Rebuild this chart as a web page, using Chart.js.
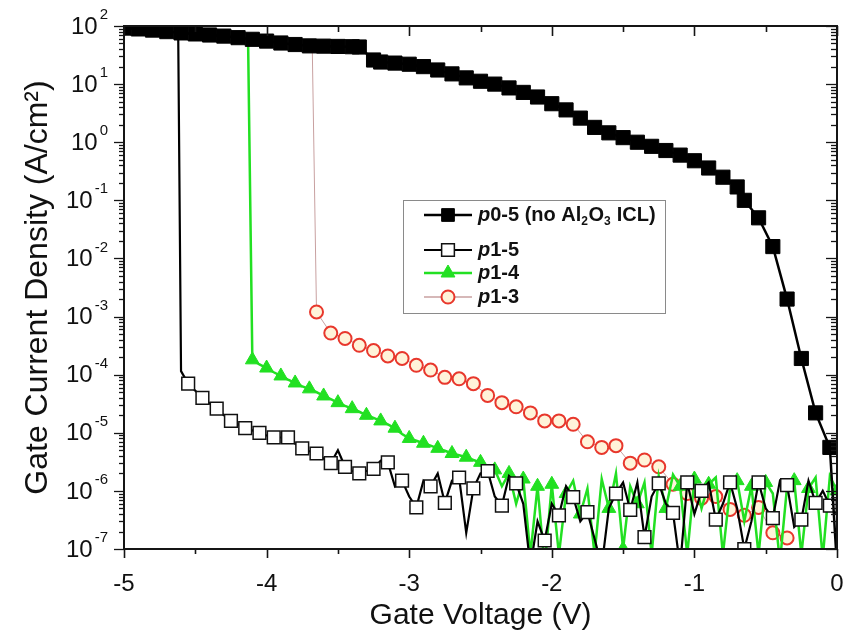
<!DOCTYPE html>
<html><head><meta charset="utf-8">
<script src="https://cdn.jsdelivr.net/npm/chart.js@4.4.1/dist/chart.umd.min.js"></script>
<style>html,body{margin:0;padding:0;background:#fff;}#wrap{width:848px;height:637px;}</style>
</head><body><div id="wrap"><canvas id="c" width="848" height="637"></canvas></div>
<script>
// ---------- data ----------
const xTickLabels = ['-5', '-4', '-3', '-2', '-1', '0'];
const yTickExponents = [2, 1, 0, -1, -2, -3, -4, -5, -6, -7];
const xTitle = 'Gate Voltage (V)';
const yTitle = 'Gate Current Density (A/cm²)';
const seriesNames = ['p0-5 (no Al_2O_3 ICL)', 'p1-5', 'p1-4', 'p1-3'];

// [gate voltage (V), current density (A/cm^2)]
const p05 = [[-5.0,92],[-4.9,89],[-4.8,85],[-4.7,80],[-4.6,76],[-4.5,73],[-4.4,70],[-4.3,67],[-4.2,63],[-4.1,59],
 [-4.0,55],[-3.9,51],[-3.8,48],[-3.7,45.5],[-3.6,45],[-3.5,44.5],[-3.4,44],[-3.35,43.5],[-3.25,26],[-3.2,24],
 [-3.1,23],[-3.0,22],[-2.9,20],[-2.8,17.5],[-2.7,15],[-2.6,12.8],[-2.5,11.2],[-2.4,10],[-2.3,8.6],[-2.2,7.2],
 [-2.1,6],[-2.0,4.6],[-1.9,3.6],[-1.8,2.6],[-1.7,1.8],[-1.6,1.45],[-1.5,1.2],[-1.4,1.0],[-1.3,0.85],[-1.2,0.72],
 [-1.1,0.6],[-1.0,0.48],[-0.9,0.36],[-0.8,0.25],[-0.7,0.17],[-0.65,0.1],[-0.55,0.05],[-0.45,0.016],[-0.35,0.002],
 [-0.25,1.9e-4],[-0.15,2.2e-5],[-0.05,5.6e-6],[0,5e-8]];

const p15 = [[-4.62,78],[-4.6,1.15e-4],[-4.55,7e-5],[-4.5,5.3e-5],[-4.45,4e-5],[-4.4,3.2e-5],[-4.35,2.6e-5],[-4.3,2e-5],
 [-4.25,1.6e-5],[-4.2,1.4e-5],[-4.15,1.2e-5],[-4.1,1.1e-5],[-4.05,1.0e-5],[-4.0,9e-6],[-3.95,8.3e-6],[-3.9,8.3e-6],
 [-3.85,8.3e-6],[-3.8,6.5e-6],[-3.75,5.4e-6],[-3.7,4.8e-6],[-3.65,4.4e-6],[-3.6,3.6e-6],[-3.55,3e-6],[-3.5,5e-6],
 [-3.45,2.6e-6],[-3.4,2.2e-6],[-3.35,2e-6],[-3.3,2.2e-6],[-3.25,2.4e-6],[-3.2,3.3e-6],[-3.15,3.1e-6],[-3.1,1.2e-6],
 [-3.05,1.5e-6],[-3.0,8e-7],[-2.95,5.2e-7],[-2.9,1.5e-6],[-2.85,1.2e-6],[-2.8,2e-6],[-2.75,6.2e-7],[-2.7,1.5e-6],
 [-2.65,1.7e-6],[-2.6,1.9e-7],[-2.55,1.1e-6],[-2.5,2e-6],[-2.45,2.2e-6],[-2.4,8e-7],[-2.35,5.6e-7],[-2.3,1.8e-6],
 [-2.25,1.35e-6],[-2.2,6e-7],[-2.15,5e-8],[-2.1,3e-7],[-2.05,1.4e-7],[-2.0,6e-7],[-1.95,3.8e-7],[-1.9,1.2e-6],
 [-1.85,7.8e-7],[-1.8,3e-7],[-1.75,4.3e-7],[-1.7,1.5e-7],[-1.65,5e-8],[-1.6,5e-7],[-1.55,9e-7],[-1.5,1.4e-6],
 [-1.45,4.7e-7],[-1.4,1.4e-6],[-1.35,1.6e-7],[-1.3,8e-7],[-1.25,1.35e-6],[-1.2,6e-7],[-1.15,4.2e-7],[-1.1,5e-8],
 [-1.05,1.4e-6],[-1.0,4e-7],[-0.95,1.0e-6],[-0.9,1.4e-6],[-0.85,3.2e-7],[-0.8,6e-7],[-0.75,1.4e-6],[-0.7,5e-7],
 [-0.65,1e-7],[-0.6,3e-7],[-0.55,1.4e-6],[-0.5,5e-7],[-0.45,3.4e-7],[-0.4,1.5e-6],[-0.35,1.26e-6],[-0.3,2.4e-7],
 [-0.25,3.2e-7],[-0.2,1.5e-6],[-0.15,6.2e-7],[-0.1,1e-6],[-0.05,5.6e-7],[0,4e-7]];

const p14 = [[-4.13,60],[-4.1,1.8e-4],[-4.05,1.5e-4],[-4.0,1.3e-4],[-3.95,1.1e-4],[-3.9,9.5e-5],[-3.85,8.2e-5],
 [-3.8,7.2e-5],[-3.75,6.3e-5],[-3.7,5.7e-5],[-3.65,5e-5],[-3.6,4.3e-5],[-3.55,3.8e-5],[-3.5,3.3e-5],[-3.45,2.9e-5],
 [-3.4,2.6e-5],[-3.35,2.3e-5],[-3.3,2.0e-5],[-3.25,1.8e-5],[-3.2,1.6e-5],[-3.15,1.4e-5],[-3.1,1.2e-5],[-3.05,9.5e-6],
 [-3.0,8e-6],[-2.95,7.3e-6],[-2.9,6.6e-6],[-2.85,6e-6],[-2.8,5.4e-6],[-2.75,4.9e-6],[-2.7,4.4e-6],[-2.65,4.1e-6],
 [-2.6,3.8e-6],[-2.55,3.4e-6],[-2.5,3.1e-6],[-2.45,2.5e-6],[-2.4,2.3e-6],[-2.35,1.2e-6],[-2.3,2e-6],[-2.25,6e-7],
 [-2.2,1.6e-6],[-2.15,8e-8],[-2.1,1.2e-6],[-2.05,5e-8],[-2.0,1.3e-6],[-1.95,8e-8],[-1.9,9e-7],[-1.85,1.5e-6],
 [-1.8,4e-7],[-1.75,1.1e-6],[-1.7,8e-8],[-1.65,1.6e-6],[-1.6,5e-7],[-1.55,2e-6],[-1.5,1e-7],[-1.45,1.2e-6],
 [-1.4,6e-7],[-1.35,1.4e-6],[-1.3,8e-8],[-1.25,1.8e-6],[-1.2,5e-7],[-1.15,1.9e-6],[-1.1,1.2e-6],[-1.05,8e-8],
 [-1.0,1.6e-6],[-0.95,5e-7],[-0.9,1.3e-6],[-0.85,1.7e-6],[-0.8,8e-8],[-0.75,1.1e-6],[-0.7,1.5e-6],[-0.65,3e-7],
 [-0.6,1.2e-6],[-0.55,8e-8],[-0.5,1.4e-6],[-0.45,9e-7],[-0.4,6e-8],[-0.35,1.2e-6],[-0.3,1.5e-6],[-0.25,8e-8],
 [-0.2,1.1e-6],[-0.15,1.7e-6],[-0.1,7e-8],[-0.05,1.8e-6],[0,1.0e-6]];

const p13 = [[-3.68,47],[-3.65,1.2e-3],[-3.55,5.2e-4],[-3.45,4.2e-4],[-3.35,3.2e-4],[-3.25,2.6e-4],[-3.15,2.1e-4],
 [-3.05,1.9e-4],[-2.95,1.45e-4],[-2.85,1.2e-4],[-2.75,9e-5],[-2.65,8.5e-5],[-2.55,7e-5],[-2.45,4.4e-5],[-2.35,3.3e-5],
 [-2.25,2.8e-5],[-2.15,2.2e-5],[-2.05,1.6e-5],[-1.95,1.6e-5],[-1.85,1.4e-5],[-1.75,7e-6],[-1.65,5.6e-6],[-1.55,6e-6],
 [-1.45,3e-6],[-1.35,3.4e-6],[-1.25,2.6e-6],[-1.15,1.3e-6],[-1.05,9e-7],[-0.95,7.5e-7],[-0.85,8e-7],[-0.75,4.8e-7],
 [-0.65,3.8e-7],[-0.55,5.2e-7],[-0.45,1.9e-7],[-0.35,1.55e-7]];

const seriesData = [p05, p15, p14, p13];

// ---------- styles ----------
const FONT = '"Liberation Sans", Arial, Helvetica, sans-serif';
const styles = [
  {line:'#000000', lw:2.5, ps:'rect', r:10, lr:9, bg:'#000000', bc:'#000000', bw:1, phase:'all', skipFirst:false},
  {line:'#000000', lw:2.2, ps:'rect', r:9, lr:9, bg:'#ffffff', bc:'#111111', bw:1.5, phase:1, skipFirst:true},
  {line:'#22e022', lw:2.5, ps:'triangle', r:8, lr:8, bg:'#22e022', bc:'#22e022', bw:1, phase:0, skipFirst:true},
  {line:'#c8a0a0', lw:1, ps:'circle', r:6.5, lr:6.5, bg:'#fff3d9', bc:'#e8372c', bw:2, phase:'all', skipFirst:true}
];
function markerRadius(st) {
  return (c) => {
    if (st.skipFirst && c.dataIndex === 0) return 0;
    if (st.phase === 'all') return st.r;
    const k = Math.round(c.raw.x * 20);
    return (((k % 2) + 2) % 2) === st.phase ? st.r : 0;
  };
}

const datasets = seriesData.map((d, i) => {
  const st = styles[i];
  return {
    label: seriesNames[i].replace(/_/g, ''),
    data: d.map(([x, y]) => ({x, y})),
    borderColor: st.line, borderWidth: st.lw, tension: 0, fill: false,
    pointStyle: st.ps, pointRadius: markerRadius(st), pointHoverRadius: markerRadius(st),
    pointBackgroundColor: st.bg, pointBorderColor: st.bc, pointBorderWidth: st.bw,
    clip: 0
  };
});

function richRuns(text) {
  const runs = [];
  for (let i = 0; i < text.length; i++) {
    let ch = text[i], sub = false; const it = (i === 0 && ch === 'p');
    if (ch === '_') { sub = true; ch = text[++i]; }
    const last = runs[runs.length - 1];
    if (last && last.sub === sub && last.it === it) last.t += ch; else runs.push({t: ch, sub, it});
  }
  return runs;
}

const decorPlugin = {
  id: 'decor',
  afterDraw(chart) {
    const {ctx, chartArea: a, scales: {x, y}} = chart;
    ctx.save();
    ctx.strokeStyle = '#151515';
    ctx.lineWidth = 1.6;
    const xMajor = xTickLabels.map(Number);
    const xMinor = xMajor.slice(0, -1).map(v => v + 0.5);
    const tickX = (vals, len) => vals.forEach(v => {
      const px = Math.round(x.getPixelForValue(v)) + 0.5;
      ctx.beginPath(); ctx.moveTo(px, a.bottom); ctx.lineTo(px, a.bottom + len); ctx.stroke();
      ctx.beginPath(); ctx.moveTo(px, a.top); ctx.lineTo(px, a.top + len + 1); ctx.stroke();
    });
    tickX(xMajor, 9); tickX(xMinor, 5);
    ctx.lineWidth = 1.3;
    const tickY = (v, len) => {
      const py = Math.round(y.getPixelForValue(v)) + 0.5;
      ctx.beginPath(); ctx.moveTo(a.left, py); ctx.lineTo(a.left - len, py); ctx.stroke();
      ctx.beginPath(); ctx.moveTo(a.right, py); ctx.lineTo(a.right - len - 1, py); ctx.stroke();
    };
    yTickExponents.forEach(e => tickY(Math.pow(10, e), 10));
    yTickExponents.slice(1).forEach(e => { for (let m = 2; m <= 9; m++) tickY(m * Math.pow(10, e), 5); });
    ctx.lineWidth = 2;
    ctx.strokeRect(a.left, a.top, a.right - a.left, a.bottom - a.top);
    // y tick labels 10^n
    ctx.fillStyle = '#111';
    ctx.textBaseline = 'middle';
    yTickExponents.forEach(e => {
      const py = y.getPixelForValue(Math.pow(10, e));
      const es = e < 0 ? '-' + Math.abs(e) : String(e);
      ctx.font = '15px ' + FONT;
      const ew = ctx.measureText(es).width;
      const right = 108;
      ctx.textAlign = 'left';
      ctx.fillText(es, right - ew, py - 11);
      ctx.font = '24px ' + FONT;
      ctx.textAlign = 'right';
      ctx.fillText('10', right - ew - 2, py + 1);
    });
    // legend
    ctx.lineWidth = 1;
    ctx.strokeStyle = '#8a8a8a';
    ctx.strokeRect(403.5, 200.5, 262, 113);
    const rows = [215, 250, 273, 297];
    seriesNames.forEach((name, i) => {
      const st = styles[i], ry = rows[i];
      ctx.strokeStyle = st.line; ctx.lineWidth = st.lw + (i === 3 ? 0.5 : 0);
      ctx.beginPath(); ctx.moveTo(424, ry); ctx.lineTo(472, ry); ctx.stroke();
      ctx.fillStyle = st.bg; ctx.strokeStyle = st.bc; ctx.lineWidth = st.bw;
      Chart.helpers.drawPoint(ctx, {pointStyle: st.ps, radius: st.lr, rotation: 0, borderWidth: st.bw}, 448, ry);
      ctx.fillStyle = '#111'; ctx.textAlign = 'left'; ctx.textBaseline = 'middle';
      let cx = 478;
      richRuns(name).forEach(r => {
        ctx.font = (r.it ? 'italic ' : '') + 'bold ' + (r.sub ? 12 : 20) + 'px ' + FONT;
        ctx.fillText(r.t, cx, r.sub ? ry + 7 : ry);
        cx += ctx.measureText(r.t).width + (r.sub ? 0.5 : 0);
      });
    });
    ctx.restore();
  }
};

new Chart(document.getElementById('c'), {
  type: 'line',
  data: {datasets},
  plugins: [decorPlugin],
  options: {
    responsive: false, animation: false, events: [],
    layout: {padding: {left: 0, top: 26, right: 10, bottom: 0}},
    plugins: {legend: {display: false}, tooltip: {enabled: false}},
    scales: {
      x: {
        type: 'linear', min: -5, max: 0, position: 'bottom',
        afterFit(s) { s.height = 88; s.paddingLeft = 0; s.paddingRight = 0; },
        ticks: {stepSize: 1, font: {family: FONT, size: 24}, color: '#111', padding: 21,
          callback: (v) => xTickLabels[Math.round(v + 5)]},
        grid: {display: false, drawTicks: false}, border: {display: false},
        title: {display: true, text: xTitle, font: {family: FONT, size: 30}, color: '#111', padding: {top: 0, bottom: 3}}
      },
      y: {
        type: 'logarithmic', min: 1e-7, max: 100, position: 'left',
        afterFit(s) { s.width = 124; s.paddingTop = 0; s.paddingBottom = 0; },
        ticks: {display: false}, grid: {display: false, drawTicks: false}, border: {display: false},
        title: {display: true, text: yTitle, font: {family: FONT, size: 32}, color: '#111', padding: {top: 19, bottom: 0}}
      }
    }
  }
});
</script></body></html>
